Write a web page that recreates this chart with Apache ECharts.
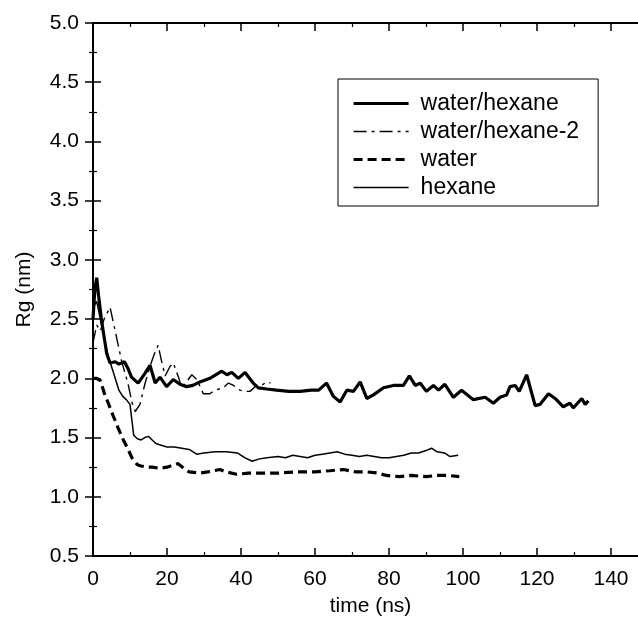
<!DOCTYPE html>
<html>
<head>
<meta charset="utf-8">
<script src="https://cdn.jsdelivr.net/npm/echarts@6/dist/echarts.min.js"></script>
<style>
html,body{margin:0;padding:0;background:#fff;overflow:hidden;}
#chart{width:638px;height:617px;}
</style>
</head>
<body>
<div id="chart"></div>
<script>
// Series names
var seriesNames = ['water/hexane', 'water/hexane-2', 'water', 'hexane'];

// water/hexane (thick solid)
var whTime = [0,0.5,1,1.5,2.3,3,3.7,4.6,6,7,8.5,9.5,10.4,12.2,14,15.4,16.8,18.1,19.9,21.7,23.5,25.3,27,28.9,31.6,34.8,36.2,37.5,39.3,41.1,43.3,44.7,47,49.6,53,56,59,61,63.1,64.9,66.8,68.6,70.4,72.2,74,75.8,78.5,81.2,83.9,85.5,87.1,88.4,90.1,92,93.4,95.1,97.4,99.6,102.8,106,108.2,110,111.8,112.7,114.1,115.2,117.2,119.5,120.8,123.1,124.9,127.1,128.9,129.8,132.1,133,133.9];
var whRg   = [2.5,2.75,2.85,2.7,2.49,2.35,2.21,2.13,2.14,2.12,2.14,2.08,2.01,1.96,2.04,2.11,1.96,2.01,1.93,1.99,1.95,1.93,1.94,1.97,2.0,2.06,2.03,2.05,2.0,2.05,1.96,1.92,1.91,1.9,1.89,1.89,1.9,1.9,1.96,1.85,1.8,1.9,1.89,1.97,1.83,1.86,1.92,1.94,1.94,2.02,1.94,1.96,1.89,1.94,1.9,1.95,1.84,1.9,1.82,1.84,1.79,1.84,1.86,1.93,1.94,1.89,2.03,1.77,1.78,1.87,1.83,1.76,1.79,1.75,1.83,1.78,1.81];

// water/hexane-2 (thin dash-dot)
var wh2Time = [0,1,2,3,4.6,6,7.7,9.5,10.5,11.4,12.7,14,15.4,16.5,17.6,18.5,19.5,20.8,21.7,23.1,24,25.5,26.7,28.1,29.8,31.6,33,35.2,36.6,38,39.7,41,42.4,44.2,45.5,47,48];
var wh2Rg   = [2.3,2.45,2.4,2.5,2.6,2.4,2.15,1.95,1.8,1.72,1.78,1.95,2.1,2.2,2.28,2.15,2.02,2.1,2.13,2.01,1.92,1.98,2.03,1.99,1.87,1.87,1.9,1.92,1.96,1.94,1.9,1.89,1.89,1.94,1.94,1.97,1.96];

// water (thick dashed)
var wTime = [0,1,2,3,4,5.5,6.8,8.2,9.5,10.5,12,13,14.5,16,18,20,22,23,24.5,26,28.9,31,34.3,36,38.8,42,45,50,55,60,64,67.7,71,74,77,79.3,82.9,86,90,93,96,99];
var wRg   = [2.0,2.0,1.98,1.88,1.8,1.68,1.58,1.48,1.4,1.33,1.27,1.26,1.25,1.25,1.24,1.25,1.27,1.28,1.24,1.21,1.2,1.21,1.23,1.21,1.19,1.2,1.2,1.2,1.21,1.21,1.22,1.23,1.21,1.21,1.2,1.18,1.17,1.18,1.17,1.18,1.18,1.17];

// hexane (thin solid)
var hTime = [0,1,2,3,4,5,6,7,8,9,10,10.5,11,12,13,14,15,16,17,18,20,22,24,26,28,30,33,36,39,41,43,45,47,50,52,54,56,58,60,62,64,66,68,70,72,74,76,78,80,82,84,86,88,90,91.5,93,95,96.5,98.7];
var hRg   = [2.6,2.65,2.5,2.35,2.2,2.1,2.0,1.9,1.85,1.82,1.78,1.65,1.52,1.49,1.48,1.5,1.51,1.48,1.45,1.44,1.42,1.42,1.41,1.4,1.36,1.37,1.38,1.38,1.37,1.33,1.3,1.32,1.33,1.34,1.33,1.35,1.34,1.33,1.35,1.36,1.37,1.38,1.36,1.35,1.34,1.35,1.34,1.33,1.33,1.34,1.35,1.37,1.37,1.39,1.41,1.38,1.37,1.34,1.35];

// Axis ticks
var xTickLabels = ['0','20','40','60','80','100','120','140'];
var yTickLabels = ['0.5','1.0','1.5','2.0','2.5','3.0','3.5','4.0','4.5','5.0'];

function pairs(t, v) { return t.map(function (x, i) { return [x, v[i]]; }); }

var FONT = 'Liberation Sans, Arial, Helvetica, sans-serif';
var chart = echarts.init(document.getElementById('chart'), null, {renderer: 'canvas'});

var axisLine = {show: true, lineStyle: {color: '#000', width: 2}};
var tickIn = {show: true, inside: true, length: 8, lineStyle: {color: '#000', width: 1.5}};
var minorIn = {show: true, splitNumber: 2, length: 4, lineStyle: {color: '#000', width: 1.2}};

var styles = [
  {color: '#000', width: 3.2, type: 'solid'},
  {color: '#000', width: 1.4, type: [13, 5, 3, 5]},
  {color: '#000', width: 3.2, type: [9, 5]},
  {color: '#000', width: 1.5, type: 'solid'}
];

var option = {
  backgroundColor: '#fff',
  animation: false,
  grid: {left: 93, top: 23, width: 555, height: 533, containLabel: false, outerBoundsMode: 'none'},
  legend: {
    show: true,
    left: 338, top: 79,
    orient: 'vertical',
    data: seriesNames.map(function (n, i) {
      return {name: n, lineStyle: {width: styles[i].width, type: styles[i].type, color: '#000'}};
    }),
    itemWidth: 55, itemHeight: 14, itemGap: 5,
    padding: [13, 19, 7, 14],
    borderColor: '#000', borderWidth: 1,
    backgroundColor: '#fff',
    itemStyle: {opacity: 0, borderWidth: 0},
    textStyle: {color: '#000', fontSize: 23, fontFamily: FONT, lineHeight: 23, padding: [0, 0, 0, 7]}
  },
  xAxis: [{
    type: 'value', position: 'bottom', min: 0, max: 150, interval: 20,
    name: 'time (ns)', nameLocation: 'middle', nameGap: 40,
    nameTextStyle: {color: '#000', fontSize: 21, fontFamily: FONT},
    axisLine: axisLine, axisTick: tickIn, minorTick: minorIn,
    splitLine: {show: false},
    axisLabel: {color: '#000', fontSize: 21, fontFamily: FONT, margin: 13,
      formatter: function (v) { var s = String(v); return xTickLabels.indexOf(s) >= 0 ? s : ''; }}
  }, {
    type: 'value', position: 'top', min: 0, max: 150, interval: 20,
    axisLine: axisLine, axisTick: tickIn, minorTick: minorIn,
    splitLine: {show: false}, axisLabel: {show: false}
  }],
  yAxis: [{
    type: 'value', position: 'left', min: 0.5, max: 5.0, interval: 0.5,
    name: 'Rg (nm)', nameLocation: 'middle', nameGap: 58,
    nameTextStyle: {color: '#000', fontSize: 21, fontFamily: FONT},
    axisLine: axisLine, axisTick: tickIn, minorTick: minorIn,
    splitLine: {show: false},
    axisLabel: {color: '#000', fontSize: 21, fontFamily: FONT, margin: 14,
      formatter: function (v) { var s = v.toFixed(1); return yTickLabels.indexOf(s) >= 0 ? s : ''; }}
  }, {
    type: 'value', position: 'right', min: 0.5, max: 5.0, interval: 0.5,
    axisLine: axisLine, axisTick: tickIn, minorTick: minorIn,
    splitLine: {show: false}, axisLabel: {show: false}
  }],
  series: seriesNames.map(function (n, i) {
    var t = [whTime, wh2Time, wTime, hTime][i];
    var v = [whRg, wh2Rg, wRg, hRg][i];
    return {
      name: n, type: 'line', symbol: 'none', data: pairs(t, v),
      lineStyle: styles[i], itemStyle: {color: '#000'}, z: 5 - i
    };
  })
};
chart.setOption(option);
</script>
</body>
</html>
